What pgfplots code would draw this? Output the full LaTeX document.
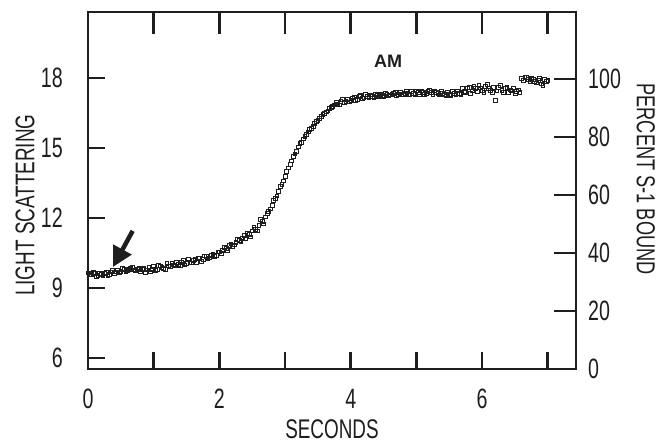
\documentclass[border=0pt]{standalone}
\usepackage{fontspec}
\setmainfont{Liberation Sans}[FakeStretch=0.7]
\newfontfamily\amfont{Liberation Sans}
\usepackage{pgfplots}
\pgfplotsset{compat=1.18}
\usetikzlibrary{calc,arrows.meta}

\definecolor{ink}{HTML}{1E1E1E}

\tikzset{scanlabel/.style={font=\fontsize{27}{30}\selectfont, text=ink, anchor=center}}

\pgfplotsset{
  scanframe/.style={
    scale only axis, width=488pt, height=357pt,
    xmin=0, xmax=7.43,
    axis line style={line width=2.6pt, ink},
    tick style={line width=2.6pt, ink},
    tick align=inside,
    /pgf/number format/assume math mode=true,
    ticklabel style={font=\fontsize{28}{30}\selectfont, text=ink, inner sep=0pt},
  },
}

\begin{document}
\begin{tikzpicture}

\begin{axis}[scanframe, name=main,
    ymin=5.53, ymax=20.83,
    major tick length=17pt, minor tick length=17pt,
    xtick={0,2,4,6}, minor xtick={1,3,5,7},
    ytick={6,9,12,15,18},
    ytick pos=left, xtick pos=lower,
    xticklabel style={anchor=base, yshift=-39pt},
    yticklabel style={anchor=east, xshift=-25pt},
    xlabel={SECONDS}, ylabel={LIGHT SCATTERING},
    every axis x label/.style={scanlabel, at={(axis description cs:0.5,-0.168)}},
    every axis y label/.style={scanlabel, at={(axis description cs:-0.129,0.459)}, rotate=90},
  ]
  \addplot[only marks, mark=square, mark size=1.9pt, ink, mark options={line width=0.6pt}] coordinates {
    (0.00,9.65) (0.05,9.60) (0.10,9.62) (0.15,9.55) (0.20,9.58) (0.25,9.63)
    (0.30,9.55) (0.35,9.70) (0.40,9.62) (0.45,9.78) (0.50,9.72) (0.55,9.82)
    (0.60,9.75) (0.65,9.85) (0.70,9.78) (0.75,9.80) (0.80,9.72) (0.85,9.85)
    (0.90,9.78) (0.95,9.70) (1.00,9.92) (1.05,9.80) (1.10,9.95) (1.15,9.85)
    (1.20,10.05) (1.25,9.92) (1.30,10.00) (1.35,10.10) (1.40,9.98) (1.45,10.20)
    (1.50,10.05) (1.55,10.12) (1.60,10.18) (1.65,10.10) (1.70,10.28) (1.75,10.22)
    (1.80,10.35) (1.85,10.30) (1.90,10.45) (1.95,10.40) (2.00,10.55) (2.05,10.62)
    (2.10,10.70) (2.15,10.82) (2.20,10.78) (2.25,10.95) (2.30,11.05) (2.35,11.15)
    (2.40,11.12) (2.45,11.30) (2.50,11.45) (2.55,11.52) (2.60,11.70) (2.65,11.85)
    (2.70,12.05) (2.75,12.30) (2.80,12.55) (2.85,12.85) (2.90,13.15) (2.95,13.45)
    (3.00,13.80) (3.05,14.15) (3.10,14.45) (3.15,14.75) (3.20,15.05) (3.25,15.25)
    (3.30,15.50) (3.35,15.70) (3.40,15.85) (3.45,16.05) (3.50,16.20) (3.55,16.35)
    (3.60,16.50) (3.65,16.60) (3.70,16.75) (3.75,16.85) (3.80,16.90) (3.85,17.00)
    (3.90,16.95) (3.95,17.10) (4.00,17.05) (4.05,17.20) (4.10,17.10) (4.15,17.25)
    (4.20,17.15) (4.25,17.22) (4.30,17.28) (4.35,17.18) (4.40,17.25) (4.45,17.30)
    (4.50,17.22) (4.55,17.32) (4.60,17.28) (4.65,17.35) (4.70,17.25) (4.75,17.38)
    (4.80,17.30) (4.85,17.42) (4.90,17.32) (4.95,17.36) (5.00,17.45) (5.05,17.30)
    (5.10,17.40) (5.15,17.35) (5.20,17.48) (5.25,17.32) (5.30,17.40) (5.35,17.28)
    (5.40,17.35) (5.45,17.25) (5.50,17.30) (5.55,17.42) (5.60,17.28) (5.65,17.35)
    (5.70,17.55) (5.75,17.40) (5.80,17.62) (5.85,17.45) (5.90,17.55) (5.95,17.70)
    (6.00,17.48) (6.05,17.65) (6.10,17.55) (6.15,17.40) (6.20,17.05) (6.25,17.60)
    (6.30,17.48) (6.35,17.55) (6.40,17.38) (6.45,17.45) (6.50,17.35) (6.55,17.50)
    (6.60,18.00) (6.65,18.05) (6.70,17.95) (6.75,18.00) (6.80,17.85) (6.85,17.92)
    (6.90,17.75) (6.95,17.95) (7.00,17.90)
    (0.025,9.58) (0.075,9.66) (0.125,9.52) (0.175,9.62) (0.225,9.55) (0.275,9.68)
    (0.325,9.60) (0.375,9.75) (0.425,9.70) (0.475,9.65) (0.525,9.85) (0.575,9.72)
    (0.625,9.80) (0.675,9.90) (0.725,9.74) (0.775,9.86) (0.825,9.80) (0.875,9.68)
    (0.925,9.88) (0.975,9.82) (1.025,9.75) (1.075,9.98) (1.125,9.90) (1.175,9.80)
    (1.225,9.95) (1.275,10.08) (1.325,9.95) (1.375,10.02) (1.425,10.12) (1.475,10.00)
    (1.525,10.25) (1.575,10.08) (1.625,10.22) (1.675,10.30) (1.725,10.15) (1.775,10.38)
    (1.825,10.25) (1.875,10.42) (1.925,10.35) (1.975,10.55) (2.025,10.48) (2.075,10.75)
    (2.125,10.62) (2.175,10.90) (2.225,10.85) (2.275,11.10) (2.325,10.98) (2.375,11.25)
    (2.425,11.35) (2.475,11.20) (2.525,11.60) (2.575,11.45) (2.625,11.95) (2.675,11.75)
    (2.725,12.20) (2.775,12.40) (2.825,12.75) (2.875,12.95) (2.925,13.35) (2.975,13.60)
    (3.025,14.00) (3.075,14.30) (3.125,14.65) (3.175,14.85) (3.225,15.20) (3.275,15.40)
    (3.325,15.58) (3.375,15.82) (3.425,15.92) (3.475,16.15) (3.525,16.28) (3.575,16.45)
    (3.625,16.55) (3.675,16.72) (3.725,16.78) (3.775,16.95) (3.825,16.85) (3.875,17.08)
    (3.925,17.02) (3.975,16.98) (4.025,17.15) (4.075,17.05) (4.125,17.22) (4.175,17.12)
    (4.225,17.30) (4.275,17.18) (4.325,17.22) (4.375,17.32) (4.425,17.20) (4.475,17.26)
    (4.525,17.36) (4.575,17.24) (4.625,17.30) (4.675,17.40) (4.725,17.32) (4.775,17.28)
    (4.825,17.35) (4.875,17.30) (4.925,17.42) (4.975,17.30) (5.025,17.38) (5.075,17.45)
    (5.125,17.30) (5.175,17.42) (5.225,17.38) (5.275,17.45) (5.325,17.35) (5.375,17.42)
    (5.425,17.30) (5.475,17.38) (5.525,17.25) (5.575,17.35) (5.625,17.45) (5.675,17.30)
    (5.725,17.42) (5.775,17.58) (5.825,17.35) (5.875,17.65) (5.925,17.42) (5.975,17.58)
    (6.025,17.40) (6.075,17.72) (6.125,17.48) (6.175,17.62) (6.225,17.45) (6.275,17.70)
    (6.325,17.40) (6.375,17.62) (6.425,17.50) (6.475,17.58) (6.525,17.42) (6.575,17.40)
    (6.625,17.92) (6.675,18.02) (6.725,17.85) (6.775,17.95) (6.825,17.80) (6.875,17.98)
    (6.925,17.70) (6.975,17.85)
  };
  % arrow marking the start of mixing
  \draw[ink, line width=4.5pt, -{Triangle[length=20pt, width=20pt]}]
    (axis cs:0.68,11.45) -- (axis cs:0.38,9.90);
  \node[font=\amfont\bfseries\fontsize{18}{20}\selectfont, text=ink]
    at (axis cs:4.57,18.72) {AM};
\end{axis}

% top ticks and right-hand percent scale
\begin{axis}[scanframe,
    ymin=0, ymax=123.1,
    major tick length=22pt,
    axis x line*=top, axis y line*=right,
    xtick={0,...,7}, xticklabels={},
    ytick={0,20,...,100},
    yticklabel style={anchor=west, xshift=12pt},
    ylabel={PERCENT S-1 BOUND},
    every axis y label/.style={scanlabel, at={(axis description cs:1.143,0.532)}, rotate=-90,
      font=\fontsize{26}{28}\selectfont},
  ]
  \addplot[draw=none] coordinates {(0,0)};
\end{axis}

\pgfresetboundingbox
\path[use as bounding box] ($(main.south west)+(-88pt,-76pt)$) rectangle ($(main.south west)+(570pt,369pt)$);
\end{tikzpicture}
\end{document}
